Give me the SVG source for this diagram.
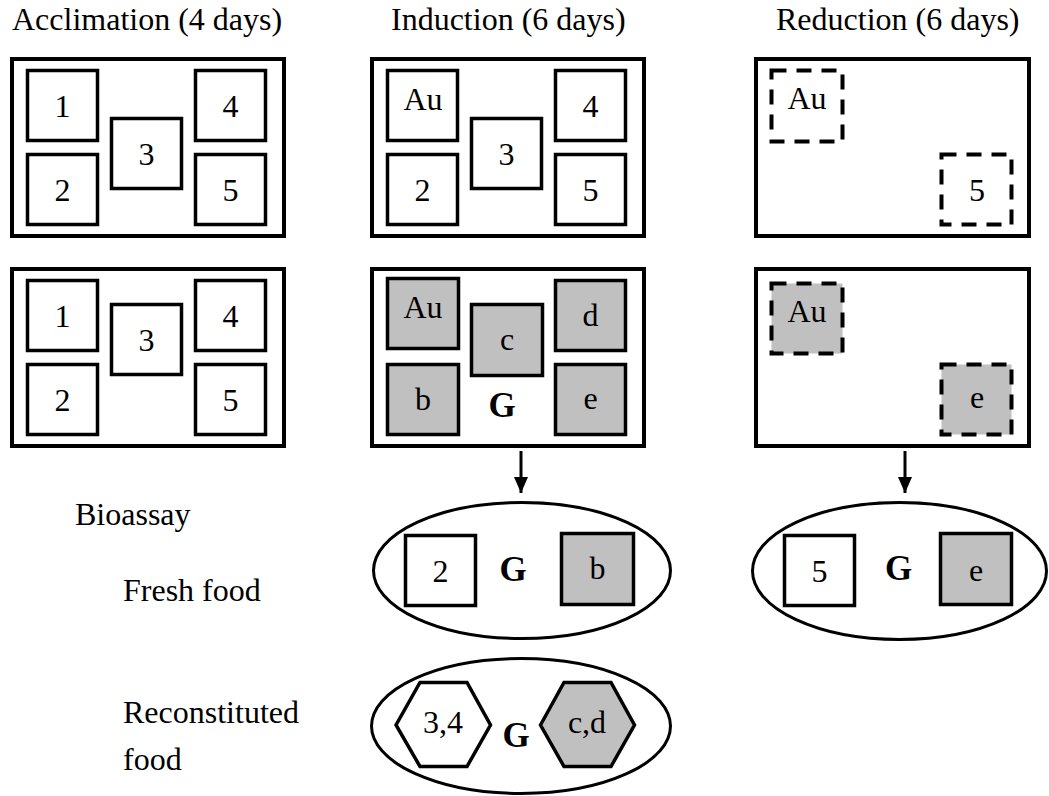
<svg xmlns="http://www.w3.org/2000/svg" width="1049" height="796" viewBox="0 0 1049 796">
<defs>
<style>
text{font-family:"Liberation Serif","Times New Roman",serif;font-size:32px;fill:#000}
.c{text-anchor:middle}
.g{font-weight:bold;text-anchor:middle;font-size:35px}
.frame{fill:#fff;stroke:#000;stroke-width:4}
.box{fill:#fff;stroke:#000;stroke-width:3.5}
.gray{fill:#c0c0c0;stroke:#000;stroke-width:3.5}
.dash{fill:#fff;stroke:#000;stroke-width:4;stroke-dasharray:15 10}
.dashg{fill:#c0c0c0;stroke:#000;stroke-width:4;stroke-dasharray:15 10}
.ell{fill:#fff;stroke:#000;stroke-width:3}
</style>
<marker id="ah" viewBox="0 0 16 14" refX="16" refY="7" markerWidth="16" markerHeight="14" markerUnits="userSpaceOnUse" orient="auto">
<path d="M0,0 L16,7 L0,14 Z" fill="#000"/>
</marker>
</defs>
<rect width="1049" height="796" fill="#fff"/>

<g id="titles">
<text x="12" y="30">Acclimation (4 days)</text>
<text x="391" y="30">Induction (6 days)</text>
<text x="776" y="30">Reduction (6 days)</text>
</g>

<g id="acclimation-1">
<rect class="frame" x="12" y="59" width="272" height="177"/>
<rect class="box" x="27.5" y="70.5" width="70" height="70"/>
<text class="c" x="62.5" y="117">1</text>
<rect class="box" x="27.5" y="154.5" width="70" height="70"/>
<text class="c" x="62.5" y="201">2</text>
<rect class="box" x="111.5" y="118.5" width="70" height="70"/>
<text class="c" x="146.5" y="165">3</text>
<rect class="box" x="195.5" y="70.5" width="70" height="70"/>
<text class="c" x="230.5" y="117">4</text>
<rect class="box" x="195.5" y="154.5" width="70" height="70"/>
<text class="c" x="230.5" y="201">5</text>
</g>

<g id="acclimation-2">
<rect class="frame" x="12" y="269" width="272" height="177"/>
<rect class="box" x="27.5" y="280.5" width="70" height="70"/>
<text class="c" x="62.5" y="327">1</text>
<rect class="box" x="27.5" y="364.5" width="70" height="70"/>
<text class="c" x="62.5" y="411">2</text>
<rect class="box" x="111.5" y="304.5" width="70" height="70"/>
<text class="c" x="146.5" y="351">3</text>
<rect class="box" x="195.5" y="280.5" width="70" height="70"/>
<text class="c" x="230.5" y="327">4</text>
<rect class="box" x="195.5" y="364.5" width="70" height="70"/>
<text class="c" x="230.5" y="411">5</text>
</g>

<g id="induction-1">
<rect class="frame" x="372" y="59" width="272" height="177"/>
<rect class="box" x="387.5" y="70.5" width="70" height="70"/>
<text class="c" x="423" y="110">Au</text>
<rect class="box" x="387.5" y="154.5" width="70" height="70"/>
<text class="c" x="422.5" y="201">2</text>
<rect class="box" x="471.5" y="118.5" width="70" height="70"/>
<text class="c" x="506.5" y="165">3</text>
<rect class="box" x="555.5" y="70.5" width="70" height="70"/>
<text class="c" x="590.5" y="117">4</text>
<rect class="box" x="555.5" y="154.5" width="70" height="70"/>
<text class="c" x="590.5" y="201">5</text>
</g>

<g id="induction-2">
<rect class="frame" x="372" y="269" width="272" height="177"/>
<rect class="gray" x="387.5" y="278.5" width="71" height="70"/>
<text class="c" x="423" y="318">Au</text>
<rect class="gray" x="387.5" y="364.5" width="71" height="70"/>
<text class="c" x="423" y="410">b</text>
<rect class="gray" x="471.5" y="304.5" width="71" height="71"/>
<text class="c" x="507" y="350">c</text>
<rect class="gray" x="555.5" y="280.5" width="70" height="70"/>
<text class="c" x="590.5" y="326">d</text>
<rect class="gray" x="555.5" y="364.5" width="70" height="70"/>
<text class="c" x="590.5" y="409">e</text>
<text class="g" x="502" y="417">G</text>
</g>

<g id="reduction-1">
<rect class="frame" x="756" y="59" width="273" height="177"/>
<rect class="dash" x="771.5" y="70.5" width="71" height="71"/>
<text class="c" x="807" y="109">Au</text>
<rect class="dash" x="941.5" y="154.5" width="70" height="70"/>
<text class="c" x="977" y="201">5</text>
</g>

<g id="reduction-2">
<rect class="frame" x="756" y="269" width="273" height="177"/>
<rect class="dashg" x="771.5" y="283.5" width="71" height="70"/>
<text class="c" x="807" y="322">Au</text>
<rect class="dashg" x="941.5" y="364.5" width="70" height="70"/>
<text class="c" x="977" y="408">e</text>
</g>

<g id="connectors">
<line x1="521" y1="451" x2="521" y2="493" stroke="#000" stroke-width="3" marker-end="url(#ah)"/>
<line x1="905" y1="451" x2="905" y2="493" stroke="#000" stroke-width="3" marker-end="url(#ah)"/>
</g>

<g id="labels">
<text x="75" y="525">Bioassay</text>
<text x="123" y="601">Fresh food</text>
<text x="123" y="723">Reconstituted</text>
<text x="123" y="770">food</text>
</g>

<g id="bioassay-induction-fresh">
<ellipse class="ell" cx="522" cy="570.5" rx="148.5" ry="68"/>
<rect class="box" x="405.5" y="535.5" width="70" height="70"/>
<text class="c" x="440.5" y="582">2</text>
<rect class="gray" x="561.5" y="533.5" width="72" height="71"/>
<text class="c" x="597.5" y="579">b</text>
<text class="g" x="513" y="581">G</text>
</g>

<g id="bioassay-induction-reconstituted">
<ellipse class="ell" cx="521" cy="726" rx="149.5" ry="67.5"/>
<polygon class="box" points="396,725 420,682.5 467,682.5 490.5,725 467,766.5 420,766.5"/>
<text class="c" x="443" y="733">3,4</text>
<polygon class="gray" points="540.5,725 564,682.5 611,682.5 634.5,725 611,766.5 564,766.5"/>
<text class="c" x="587" y="733">c,d</text>
<text class="g" x="516" y="747">G</text>
</g>

<g id="bioassay-reduction-fresh">
<ellipse class="ell" cx="899.5" cy="571" rx="147" ry="68.5"/>
<rect class="box" x="784.5" y="535.5" width="70" height="70"/>
<text class="c" x="819.5" y="582">5</text>
<rect class="gray" x="940.5" y="533.5" width="71" height="71"/>
<text class="c" x="976" y="581">e</text>
<text class="g" x="898.5" y="580">G</text>
</g>
</svg>
